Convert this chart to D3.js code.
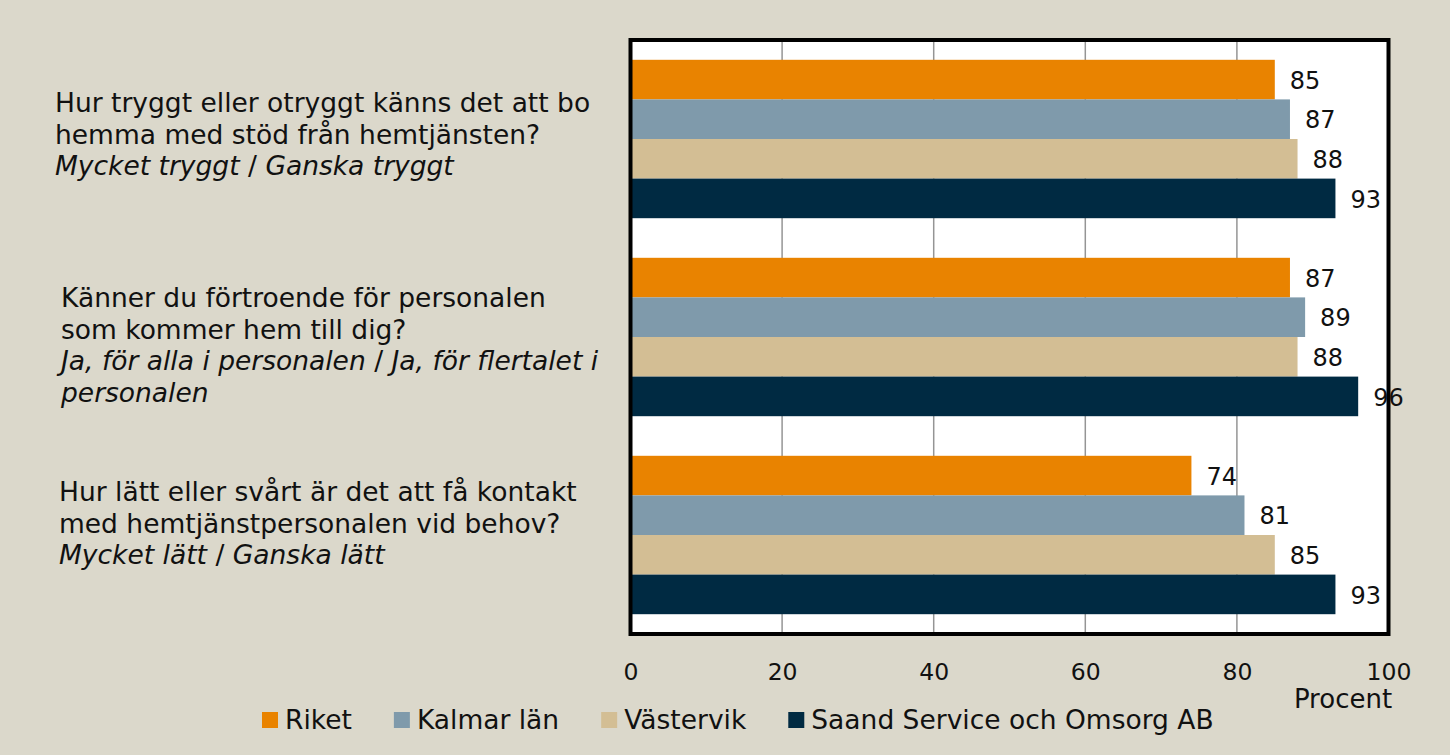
<!DOCTYPE html>
<html>
<head>
<meta charset="utf-8">
<script src="https://cdn.jsdelivr.net/npm/d3@7"></script>
<style>
  body { margin: 0; background: #dbd8cb; }
  svg { display: block; font-family: "DejaVu Sans", sans-serif; }
</style>
</head>
<body>
<svg id="chart" width="1450" height="755"></svg>
<script>
// Categories (questions), top to bottom
var questions = ['q1', 'q2', 'q3'];
var questionLines = [
  [{ t: 'Hur tryggt eller otryggt känns det att bo' }, { t: 'hemma med stöd från hemtjänsten?' },
   { t: 'Mycket tryggt', i: true, s: 'Ganska tryggt' }],
  [{ t: 'Känner du förtroende för personalen' }, { t: 'som kommer hem till dig?' },
   { t: 'Ja, för alla i personalen', i: true, s: 'Ja, för flertalet i' }, { t: 'personalen', i: true }],
  [{ t: 'Hur lätt eller svårt är det att få kontakt' }, { t: 'med hemtjänstpersonalen vid behov?' },
   { t: 'Mycket lätt', i: true, s: 'Ganska lätt' }]
];
var series = ['Riket', 'Kalmar län', 'Västervik', 'Saand Service och Omsorg AB'];
var colors = ['#e98300', '#7f9aab', '#d3be94', '#002a42'];
var riket = [85, 87, 74];
var kalmar = [87, 89, 81];
var vastervik = [88, 88, 85];
var saand = [93, 96, 93];
var values = [riket, kalmar, vastervik, saand];
var xTicks = [0, 20, 40, 60, 80, 100];

var svg = d3.select('#chart');

var x = d3.scaleLinear().domain([0, 100]).range([630.5, 1388.5]);
var y = d3.scaleBand().domain(questions).range([40, 634]).paddingInner(0.2).paddingOuter(0.1);
var ySub = d3.scaleBand().domain(series).range([0, y.bandwidth()]);

// plot area
svg.append('rect')
  .attr('x', x(0)).attr('y', 40)
  .attr('width', x(100) - x(0)).attr('height', 594)
  .attr('fill', '#fff');

// gridlines
svg.append('g').selectAll('line')
  .data(xTicks.slice(1, -1))
  .enter().append('line')
  .attr('x1', function (d) { return x(d); })
  .attr('x2', function (d) { return x(d); })
  .attr('y1', 40).attr('y2', 634)
  .attr('stroke', '#959595').attr('stroke-width', 1.5);

// bars
var rows = [];
questions.forEach(function (q, qi) {
  series.forEach(function (s, si) {
    rows.push({ q: q, s: s, si: si, v: values[si][qi] });
  });
});

var bar = svg.append('g').selectAll('g')
  .data(rows)
  .enter().append('g')
  .attr('transform', function (d) { return 'translate(0,' + (y(d.q) + ySub(d.s)) + ')'; });

bar.append('rect')
  .attr('x', x(0))
  .attr('width', function (d) { return x(d.v) - x(0); })
  .attr('height', ySub.bandwidth())
  .attr('fill', function (d) { return colors[d.si]; });

bar.append('text')
  .attr('x', function (d) { return x(d.v) + 15; })
  .attr('y', ySub.bandwidth() / 2)
  .attr('dy', '0.38em')
  .attr('font-size', 24)
  .attr('fill', '#111')
  .text(function (d) { return d.v; });

// frame
svg.append('rect')
  .attr('x', x(0)).attr('y', 40)
  .attr('width', x(100) - x(0)).attr('height', 594)
  .attr('fill', 'none')
  .attr('stroke', '#000').attr('stroke-width', 4);

// x axis
var axis = svg.append('g')
  .attr('transform', 'translate(0,663)')
  .call(d3.axisBottom(x).tickValues(xTicks).tickSize(0).tickPadding(0));
axis.select('.domain').remove();
axis.selectAll('text')
  .attr('font-family', '"DejaVu Sans", sans-serif')
  .attr('font-size', 23.5)
  .attr('fill', '#111');

svg.append('text')
  .attr('x', 1343).attr('y', 708)
  .attr('text-anchor', 'middle')
  .attr('font-size', 26)
  .attr('fill', '#111')
  .text('Procent');

// question labels
var qx = [55, 61, 59];
var qy = [112, 307, 501];
questionLines.forEach(function (lines, qi) {
  var t = svg.append('text')
    .attr('font-size', 26.5)
    .attr('fill', '#111');
  lines.forEach(function (ln, li) {
    t.append('tspan')
      .attr('x', qx[qi])
      .attr('y', qy[qi] + li * 31.7)
      .attr('font-style', ln.i ? 'italic' : null)
      .text(ln.t);
    if (ln.s) {
      t.append('tspan').text(' / ');
      t.append('tspan').attr('font-style', 'italic').text(ln.s);
    }
  });
});

// legend
var lx = 262;
series.forEach(function (s, i) {
  svg.append('rect')
    .attr('x', lx).attr('y', 712)
    .attr('width', 16).attr('height', 16)
    .attr('fill', colors[i]);
  var t = svg.append('text')
    .attr('x', lx + 23).attr('y', 729)
    .attr('font-size', 26.5)
    .attr('fill', '#111')
    .text(s);
  lx += 23 + t.node().getComputedTextLength() + 42;
});
</script>
</body>
</html>
